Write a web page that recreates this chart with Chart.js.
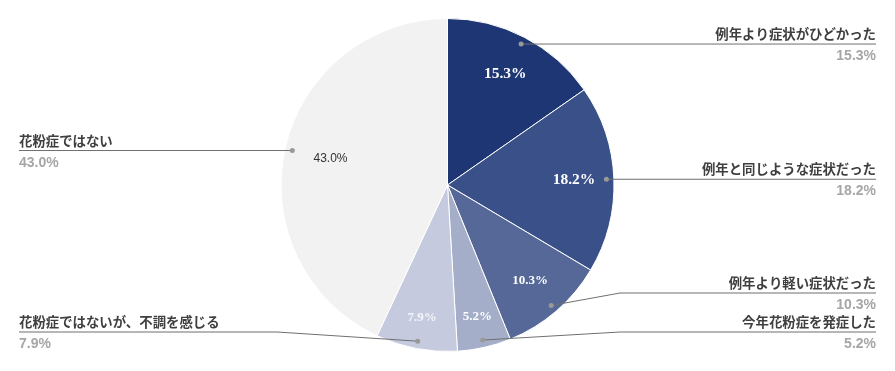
<!DOCTYPE html>
<html>
<head>
<meta charset="utf-8">
<script src="https://cdn.jsdelivr.net/npm/chart.js@4/dist/chart.umd.min.js"></script>
<style>
  html, body { margin: 0; padding: 0; background: #fff; }
  #wrap { width: 895px; height: 371px; position: relative; }
</style>
</head>
<body>
<div id="wrap"><canvas id="myChart"></canvas></div>
<script>
let labels = ['例年より症状がひどかった', '例年と同じような症状だった', '例年より軽い症状だった', '今年花粉症を発症した', '花粉症ではないが、不調を感じる', '花粉症ではない'];
let values = [15.3, 18.2, 10.3, 5.2, 7.9, 43.0];
let colors = ['#1e3674', '#3a5088', '#566898', '#a5aec9', '#c5cade', '#f2f2f2'];

/* where each outside label goes (side, line y, elbow x) */
let labelLayout = [
    { side: 'right', y: null },
    { side: 'right', y: null },
    { side: 'right', y: 293, elbow: 620 },
    { side: 'right', y: 332, elbow: 620 },
    { side: 'left', y: 332, elbow: 277 },
    { side: 'left', y: null }
];
/* inner label styling */
let innerStyle = [
    { r: 0.75, font: 'bold 15.5px "Liberation Serif"', color: '#ffffff' },
    { r: 0.76, font: 'bold 15.5px "Liberation Serif"', color: '#ffffff' },
    { r: 0.76, font: 'bold 13px "Liberation Serif"', color: '#ffffff' },
    { r: 0.81, font: 'bold 13px "Liberation Serif"', color: '#ffffff' },
    { r: 0.81, font: 'bold 13px "Liberation Serif"', color: '#f4f5fa' },
    { r: 0.72, font: '12px "Liberation Sans"', color: '#333333' }
];

let labelPlugin = {
    id: 'pieLabels',
    afterDatasetsDraw(chart) {
        let ctx = chart.ctx;
        let arcs = chart.getDatasetMeta(0).data;
        let leftX = 19;
        let rightX = 876;
        arcs.forEach((arc, i) => {
            let p = arc.getProps(['x', 'y', 'startAngle', 'endAngle', 'outerRadius'], true);
            let mid = (p.startAngle + p.endAngle) / 2;
            let txt = values[i].toFixed(1) + '%';

            /* inside value */
            let st = innerStyle[i];
            ctx.save();
            ctx.font = st.font;
            ctx.fillStyle = st.color;
            ctx.textAlign = 'center';
            ctx.textBaseline = 'middle';
            ctx.fillText(txt, p.x + Math.cos(mid) * p.outerRadius * st.r, p.y + Math.sin(mid) * p.outerRadius * st.r);

            /* leader line */
            let dx = p.x + Math.cos(mid) * p.outerRadius * 0.955;
            let dy = p.y + Math.sin(mid) * p.outerRadius * 0.955;
            let lay = labelLayout[i];
            let ly = lay.y === null ? dy : lay.y;
            let endX = lay.side === 'right' ? rightX : leftX;
            ctx.strokeStyle = '#6f6f6f';
            ctx.lineWidth = 1;
            ctx.beginPath();
            ctx.moveTo(dx, dy);
            if (lay.y !== null) ctx.lineTo(lay.elbow, ly);
            ctx.lineTo(endX, ly);
            ctx.stroke();
            ctx.fillStyle = '#999999';
            ctx.beginPath();
            ctx.arc(dx, dy, 2.5, 0, Math.PI * 2);
            ctx.fill();

            /* outside texts */
            ctx.textAlign = lay.side === 'right' ? 'right' : 'left';
            ctx.textBaseline = 'alphabetic';
            ctx.font = 'bold 13.4px "Noto Sans CJK JP"';
            ctx.fillStyle = '#3f3f3f';
            ctx.fillText(labels[i], endX, ly - 5);
            ctx.font = 'bold 14px "Liberation Sans"';
            ctx.fillStyle = '#a6a6a6';
            ctx.fillText(txt, endX, ly + 16);
            ctx.restore();
        });
    }
};

new Chart(document.getElementById('myChart'), {
    type: 'pie',
    data: {
        labels: labels,
        datasets: [{
            data: values,
            backgroundColor: colors,
            borderColor: '#ffffff',
            borderWidth: 1
        }]
    },
    options: {
        responsive: true,
        maintainAspectRatio: false,
        animation: false,
        layout: { padding: { top: 18, bottom: 19 } },
        plugins: {
            legend: { display: false },
            tooltip: { enabled: false }
        }
    },
    plugins: [labelPlugin]
});
</script>
</body>
</html>
